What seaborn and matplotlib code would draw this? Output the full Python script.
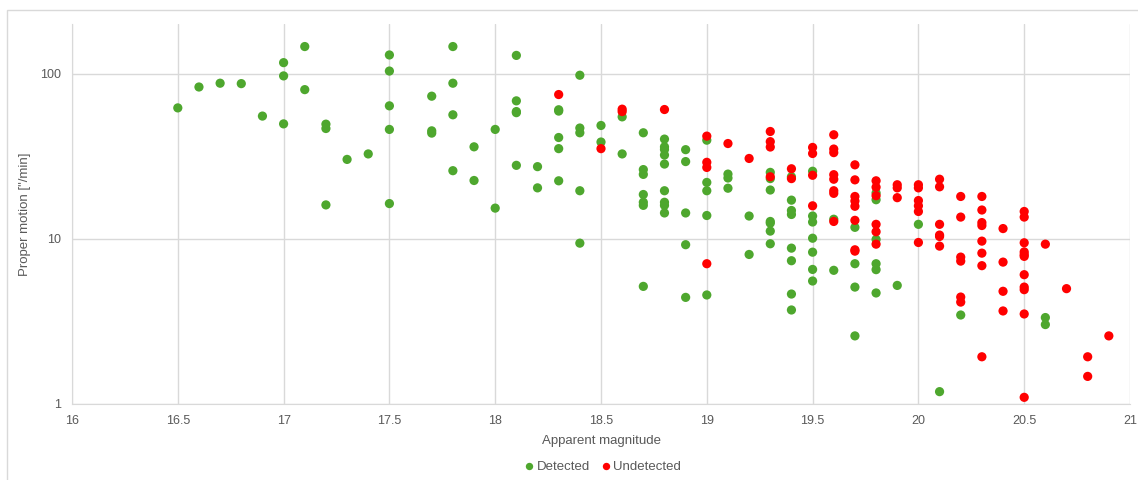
import matplotlib
matplotlib.use("Agg")
import matplotlib.pyplot as plt
from matplotlib.patches import Rectangle
from matplotlib.ticker import FixedLocator, NullLocator
import seaborn as sns
import pandas as pd

# Valeurs
detected_mag = [16.5, 16.6, 16.7, 16.8, 16.9,
                17.0, 17.0, 17.0, 17.1, 17.1, 17.2, 17.2, 17.2, 17.3, 17.4,
                17.5, 17.5, 17.5, 17.5, 17.5, 17.7, 17.7, 17.7,
                17.8, 17.8, 17.8, 17.8, 17.9, 17.9, 18.0, 18.0,
                18.1, 18.1, 18.1, 18.1, 18.1, 18.2, 18.2,
                18.3, 18.3, 18.3, 18.3, 18.3, 18.4, 18.4, 18.4, 18.4, 18.4,
                18.5, 18.5, 18.6, 18.6,
                18.7, 18.7, 18.7, 18.7, 18.7, 18.7, 18.7,
                18.8, 18.8, 18.8, 18.8, 18.8, 18.8, 18.8, 18.8, 18.8,
                18.9, 18.9, 18.9, 18.9, 18.9,
                19.0, 19.0, 19.0, 19.0, 19.0, 19.1, 19.1, 19.1, 19.2, 19.2,
                19.3, 19.3, 19.3, 19.3, 19.3, 19.3, 19.3,
                19.4, 19.4, 19.4, 19.4, 19.4, 19.4, 19.4, 19.4,
                19.5, 19.5, 19.5, 19.5, 19.5, 19.5, 19.5,
                19.6, 19.6, 19.7, 19.7, 19.7, 19.7,
                19.8, 19.8, 19.8, 19.8, 19.8, 19.8,
                19.9, 20.0, 20.1, 20.2, 20.6, 20.6]
detected_pm = [62, 83, 87.5, 87, 55.3,
               116.6, 96.9, 49.6, 146, 80, 49.4, 46.5, 16.0, 30.2, 32.6,
               129.8, 103.7, 63.8, 45.9, 16.3, 73, 45, 43.6,
               146, 87.5, 56.3, 25.8, 36, 22.5, 45.9, 15.3,
               129, 68.4, 58.9, 58, 27.8, 27.3, 20.3,
               60.4, 59.3, 41, 35.1, 22.4, 97.8, 46.8, 43.8, 19.5, 9.38,
               48.5, 38.5, 54.7, 32.6,
               43.8, 26.2, 24.5, 18.5, 16.6, 15.9, 5.13,
               40.1, 36, 34.7, 32.1, 28.3, 19.5, 16.6, 15.9, 14.3,
               34.6, 29.3, 14.3, 9.18, 4.40,
               39.5, 21.9, 19.5, 13.8, 4.55, 24.6, 23.3, 20.2, 13.7, 8.01,
               25.2, 23.1, 19.7, 12.7, 12.4, 11.1, 9.3,
               23.7, 17.1, 14.8, 14.0, 8.75, 7.34, 4.61, 3.69,
               25.6, 13.7, 12.6, 10.05, 8.27, 6.5, 5.53,
               13.1, 6.42, 11.7, 7.04, 5.08, 2.57,
               18.9, 17.2, 9.88, 7.04, 6.48, 4.68,
               5.2, 12.2, 1.18, 3.44, 3.32, 3.01]

undetected_mag = [18.3, 18.5, 18.6, 18.6, 18.8,
                  19.0, 19.0, 19.0, 19.0, 19.1, 19.2,
                  19.3, 19.3, 19.3, 19.3, 19.4, 19.4,
                  19.5, 19.5, 19.5, 19.5,
                  19.6, 19.6, 19.6, 19.6, 19.6, 19.6, 19.6, 19.6,
                  19.7, 19.7, 19.7, 19.7, 19.7, 19.7, 19.7, 19.7,
                  19.8, 19.8, 19.8, 19.8, 19.8, 19.8,
                  19.9, 19.9, 19.9,
                  20.0, 20.0, 20.0, 20.0, 20.0, 20.0,
                  20.1, 20.1, 20.1, 20.1, 20.1, 20.1,
                  20.2, 20.2, 20.2, 20.2, 20.2, 20.2,
                  20.3, 20.3, 20.3, 20.3, 20.3, 20.3, 20.3, 20.3,
                  20.4, 20.4, 20.4, 20.4,
                  20.5, 20.5, 20.5, 20.5, 20.5, 20.5, 20.5, 20.5, 20.5, 20.5, 20.5,
                  20.6, 20.7, 20.8, 20.8, 20.9]
undetected_pm = [74.7, 35.1, 60.9, 58.9, 60.6,
                 41.8, 29, 27, 7.04, 37.7, 30.6,
                 44.6, 38.7, 35.9, 23.7, 26.5, 23.1,
                 35.7, 32.8, 24.2, 15.8,
                 42.6, 34.9, 33.2, 24.4, 22.9, 19.5, 18.8, 12.7,
                 28.0, 22.7, 18.0, 16.9, 15.7, 12.9, 8.55, 8.39,
                 22.4, 20.5, 18.2, 12.2, 11.0, 9.25,
                 21.2, 20.3, 17.7,
                 21.2, 20.3, 17.0, 15.8, 14.6, 9.47,
                 22.9, 20.6, 12.2, 10.5, 10.3, 9.0,
                 18.0, 13.5, 7.72, 7.30, 4.42, 4.12,
                 18.0, 14.9, 12.5, 12.0, 9.65, 8.16, 6.85, 1.92,
                 11.5, 7.2, 4.79, 3.64,
                 14.6, 13.5, 9.43, 8.3, 8.0, 7.8, 6.04, 5.08, 4.9, 3.49, 1.09,
                 9.25, 4.97, 1.92, 1.46, 2.57]

x_ticks = [16, 16.5, 17, 17.5, 18, 18.5, 19, 19.5, 20, 20.5, 21]
x_labels = ["16", "16.5", "17", "17.5", "18", "18.5", "19", "19.5", "20", "20.5", "21"]
y_ticks = [1, 10, 100]
y_labels = ["1", "10", "100"]

df = pd.DataFrame({
    "mag": detected_mag + undetected_mag,
    "pm": detected_pm + undetected_pm,
    "statut": ["Detected"] * len(detected_mag) + ["Undetected"] * len(undetected_mag),
})

sns.set_style("white")
plt.rcParams["font.family"] = ["Liberation Sans", "DejaVu Sans"]
gris_texte = "#595959"
gris_grille = "#D9D9D9"

fig = plt.figure(figsize=(11.38, 4.8), dpi=100)
fig.patches.append(Rectangle((7 / 1138, -0.01), 1.0, 1 - 10 / 480 + 0.01,
                             transform=fig.transFigure, fill=False,
                             edgecolor=gris_grille, linewidth=1))
ax = fig.add_axes([72 / 1138, 1 - 403.5 / 480, (1130 - 72) / 1138, (403.5 - 24) / 480])

sns.scatterplot(data=df, x="mag", y="pm", hue="statut",
                palette={"Detected": "#4EA72E", "Undetected": "#FF0000"},
                s=44, linewidth=0, ax=ax, zorder=3)

ax.set_yscale("log")
ax.set_xlim(16, 21)
ax.set_ylim(1, 200)
ax.xaxis.set_major_locator(FixedLocator(x_ticks))
ax.set_xticklabels(x_labels)
ax.yaxis.set_major_locator(FixedLocator(y_ticks))
ax.yaxis.set_minor_locator(NullLocator())
ax.set_yticklabels(y_labels)
ax.grid(True, color=gris_grille, linewidth=1)
ax.set_axisbelow(True)
for cote in ["top", "right"]:
    ax.spines[cote].set_visible(False)
for cote in ["left", "bottom"]:
    ax.spines[cote].set_color(gris_grille)
ax.tick_params(length=0, labelsize=9, colors=gris_texte, pad=8)

ax.set_xlabel("Apparent magnitude", fontsize=9.5, color=gris_texte, labelpad=6)
ax.set_ylabel("Proper motion [\"/min]", fontsize=9.5, color=gris_texte)
ax.yaxis.set_label_coords(-0.039, 0.5)

handles, labels = ax.get_legend_handles_labels()
ax.legend(handles, labels, loc="center", bbox_to_anchor=(0.5, -0.168), ncol=2,
          frameon=False, fontsize=9.5, labelcolor=gris_texte, markerscale=0.8,
          handletextpad=0.0, columnspacing=0.6, handlelength=1.2)

fig.savefig("out.png", dpi=100)
